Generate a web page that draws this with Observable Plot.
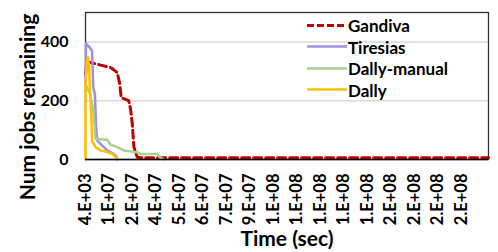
<!DOCTYPE html>
<html><head><meta charset="utf-8">
<script src="https://cdn.jsdelivr.net/npm/d3@7"></script>
<script src="https://cdn.jsdelivr.net/npm/@observablehq/plot@0.6"></script>
<style>
body{margin:0;background:#fff;}
#wrap{position:relative;width:498px;height:252px;font-family:Lato,"Open Sans",sans-serif;font-weight:bold;}
.ov{position:absolute;white-space:nowrap;color:#000;}
</style></head>
<body><div id="wrap"></div>
<script>
// x positions are in units of category-label steps (label i sits at x = i)
const xLabels = ["4.E+03","1.E+07","2.E+07","4.E+07","5.E+07","6.E+07","7.E+07","9.E+07","1.E+08","1.E+08","1.E+08","1.E+08","1.E+08","2.E+08","2.E+08","2.E+08","2.E+08"];
const yTicks = [0, 200, 400];
const seriesNames = ["Gandiva","Tiresias","Dally-manual","Dally"];
const seriesColors = ["#C00000","#9E8FE6","#A9D18E","#FFC000"];

const gandivaX = [0, 0.05, 0.21, 0.6, 1.06, 1.2, 1.35, 1.45, 1.52, 1.84, 1.92, 1.99, 2.06, 2.2, 2.4, 17.15];
const gandivaY = [290, 330, 330, 322, 313, 305, 296, 260, 211, 200, 170, 122, 42, 8, 6, 6];

const tiresiasX = [0, 0.02, 0.04, 0.18, 0.28, 0.33, 0.4, 0.45, 0.5, 0.64, 0.92, 1.2, 1.3, 1.35];
const tiresiasY = [260, 395, 392, 381, 369, 245, 223, 110, 64, 53, 31, 19, 12, 0];

const manualX = [0, 0.05, 0.2, 0.33, 0.43, 0.92, 1.06, 1.35, 1.63, 2.2, 2.34, 3.05, 3.16, 3.33];
const manualY = [230, 250, 220, 170, 70, 67, 51, 42, 31, 25, 19, 19, 8, 0];

const dallyX = [0, 0, 0.06, 0.1, 0.16, 0.18, 0.24, 0.28, 0.43, 0.64, 0.92, 1.14, 1.28, 1.35];
const dallyY = [0, 246, 330, 347, 313, 245, 166, 64, 42, 31, 25, 19, 8, 0];

const rows = (xs, ys, name) => xs.map((x, i) => ({x, y: ys[i], name}));
const gandiva = rows(gandivaX, gandivaY, "Gandiva");
const tiresias = rows(tiresiasX, tiresiasY, "Tiresias");
const manual = rows(manualX, manualY, "Dally-manual");
const dally = rows(dallyX, dallyY, "Dally");

const chart = Plot.plot({
  width: 498, height: 252,
  marginLeft: 85, marginRight: 10, marginTop: 12, marginBottom: 93,
  style: {fontFamily: "Lato, 'Open Sans', sans-serif", fontWeight: "bold", fontSize: "15px", color: "#000", background: "#fff"},
  x: {domain: [0, 17.15]},
  y: {domain: [0, 500]},
  marks: [
    Plot.gridY(yTicks.filter(d => d > 0), {stroke: "#d9d9d9", strokeOpacity: 1, strokeWidth: 1.5}),
    Plot.frame({stroke: "#333", strokeWidth: 1.3}),
    Plot.lineY(gandiva, {x: "x", y: "y", stroke: seriesColors[0], strokeWidth: 3, strokeDasharray: "8,4"}),
    Plot.lineY(tiresias, {x: "x", y: "y", stroke: seriesColors[1], strokeWidth: 2.5}),
    Plot.lineY(manual, {x: "x", y: "y", stroke: seriesColors[2], strokeWidth: 2.5}),
    Plot.lineY(dally, {x: "x", y: "y", stroke: seriesColors[3], strokeWidth: 2.5}),
    Plot.ruleY([0], {stroke: "#000", strokeWidth: 1.5}),
    Plot.axisY(yTicks, {tickSize: 0, tickPadding: 17, label: null, fontSize: 16}),
    Plot.axisX(d3.range(xLabels.length), {tickSize: 0, tickPadding: 14, tickRotate: -90, tickFormat: i => xLabels[i], label: null, fontSize: 16.5})
  ]
});
const wrap = document.getElementById("wrap");
wrap.appendChild(chart);

// titles
const yt = document.createElement("div");
yt.className = "ov"; yt.textContent = "Num jobs remaining";
yt.style.fontSize = "21px";
yt.style.left = "26px"; yt.style.top = "107px";
yt.style.transform = "translate(-50%,-50%) rotate(-90deg)";
wrap.appendChild(yt);
const xt = document.createElement("div");
xt.className = "ov"; xt.textContent = "Time (sec)";
xt.style.fontSize = "21px";
xt.style.left = "287px"; xt.style.top = "237px";
xt.style.transform = "translate(-50%,-50%)";
wrap.appendChild(xt);

// legend
seriesNames.forEach((n, i) => {
  const row = document.createElement("div");
  row.className = "ov";
  row.style.left = "307px"; row.style.top = (25 + i * 21.5) + "px";
  row.style.transform = "translateY(-50%)";
  row.style.display = "flex"; row.style.alignItems = "center";
  row.style.fontSize = "17px";
  const sw = document.createElementNS("http://www.w3.org/2000/svg", "svg");
  sw.setAttribute("width", 40); sw.setAttribute("height", 6);
  const ln = document.createElementNS("http://www.w3.org/2000/svg", "line");
  ln.setAttribute("x1", 0); ln.setAttribute("x2", 40); ln.setAttribute("y1", 3); ln.setAttribute("y2", 3);
  ln.setAttribute("stroke", seriesColors[i]);
  ln.setAttribute("stroke-width", i === 0 ? 3 : 2.5);
  if (i === 0) ln.setAttribute("stroke-dasharray", "7,3");
  sw.appendChild(ln);
  row.appendChild(sw);
  const t = document.createElement("span");
  t.textContent = n; t.style.marginLeft = "1px";
  row.appendChild(t);
  wrap.appendChild(row);
});
</script></body></html>
